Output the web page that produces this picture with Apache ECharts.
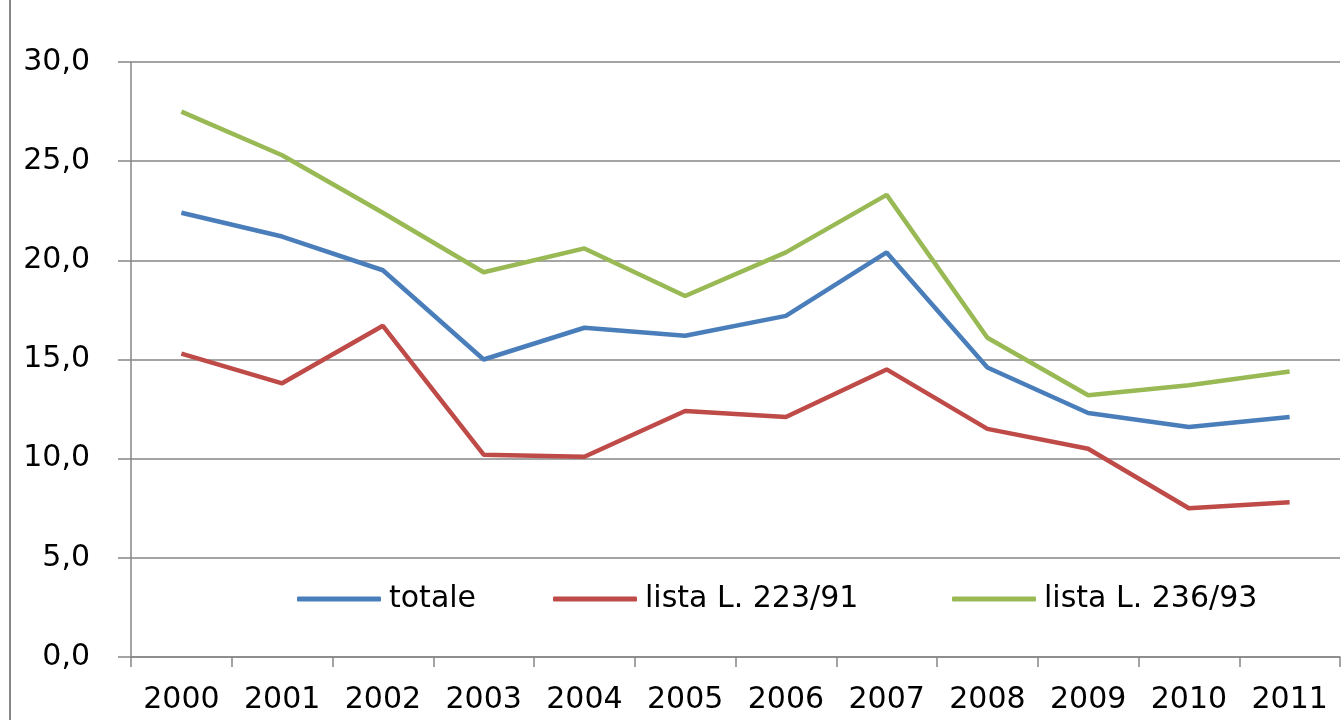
<!DOCTYPE html>
<html><head><meta charset="utf-8">
<script src="https://cdn.jsdelivr.net/npm/echarts@6/dist/echarts.min.js"></script>
<style>html,body{margin:0;padding:0;background:#fff}#c{width:1343px;height:720px}</style>
</head><body><div id="c"></div>
<script>
const categories = ['2000','2001','2002','2003','2004','2005','2006','2007','2008','2009','2010','2011'];
const totale = [22.4, 21.2, 19.5, 15.0, 16.6, 16.2, 17.2, 20.4, 14.6, 12.3, 11.6, 12.1];
const lista223 = [15.3, 13.8, 16.7, 10.2, 10.1, 12.4, 12.1, 14.5, 11.5, 10.5, 7.5, 7.8];
const lista236 = [27.5, 25.3, 22.4, 19.4, 20.6, 18.2, 20.4, 23.3, 16.1, 13.2, 13.7, 14.4];
const seriesNames = ['totale', 'lista L. 223/91', 'lista L. 236/93'];
const colors = ['#4A7EBB', '#BE4B48', '#98B954'];
const legendLeft = [292, 548, 947];

const chart = echarts.init(document.getElementById('c'), null, {renderer: 'canvas'});
const font = 'DejaVu Sans';
const fs = 30;
chart.setOption({
  animation: false,
  color: colors,
  grid: {left: 131, right: 3, top: 62, bottom: 63, containLabel: false},
  legend: seriesNames.map((n, i) => ({
    left: legendLeft[i], top: 579,
    itemWidth: 84, itemHeight: 5, itemGap: 0,
    icon: 'roundRect',
    textStyle: {fontFamily: font, fontSize: fs, color: '#000', padding: [0, 0, 0, 3]},
    data: [n]
  })),
  graphic: [{type: 'line', shape: {x1: 10, y1: 0, x2: 10, y2: 720}, style: {stroke: '#868686', lineWidth: 2}}],
  xAxis: {
    type: 'category', data: categories, boundaryGap: true,
    axisLine: {lineStyle: {color: '#868686', width: 1.5}},
    axisTick: {show: true, length: 10, alignWithLabel: false, lineStyle: {color: '#868686', width: 1.5}},
    axisLabel: {fontFamily: font, fontSize: fs, color: '#000', margin: 28, interval: 0}
  },
  yAxis: {
    type: 'value', min: 0, max: 30, interval: 5,
    axisLine: {show: true, lineStyle: {color: '#868686', width: 1.5}},
    axisTick: {show: true, length: 13, lineStyle: {color: '#868686', width: 1.5}},
    splitLine: {lineStyle: {color: '#868686', width: 1.5}},
    axisLabel: {fontFamily: font, fontSize: fs, color: '#000', margin: 41,
      formatter: v => v.toFixed(1).replace('.', ',')}
  },
  series: [
    {name: seriesNames[0], type: 'line', data: totale, symbol: 'none', lineStyle: {width: 4.5}},
    {name: seriesNames[1], type: 'line', data: lista223, symbol: 'none', lineStyle: {width: 4.5}},
    {name: seriesNames[2], type: 'line', data: lista236, symbol: 'none', lineStyle: {width: 4.5}}
  ]
});
</script></body></html>
